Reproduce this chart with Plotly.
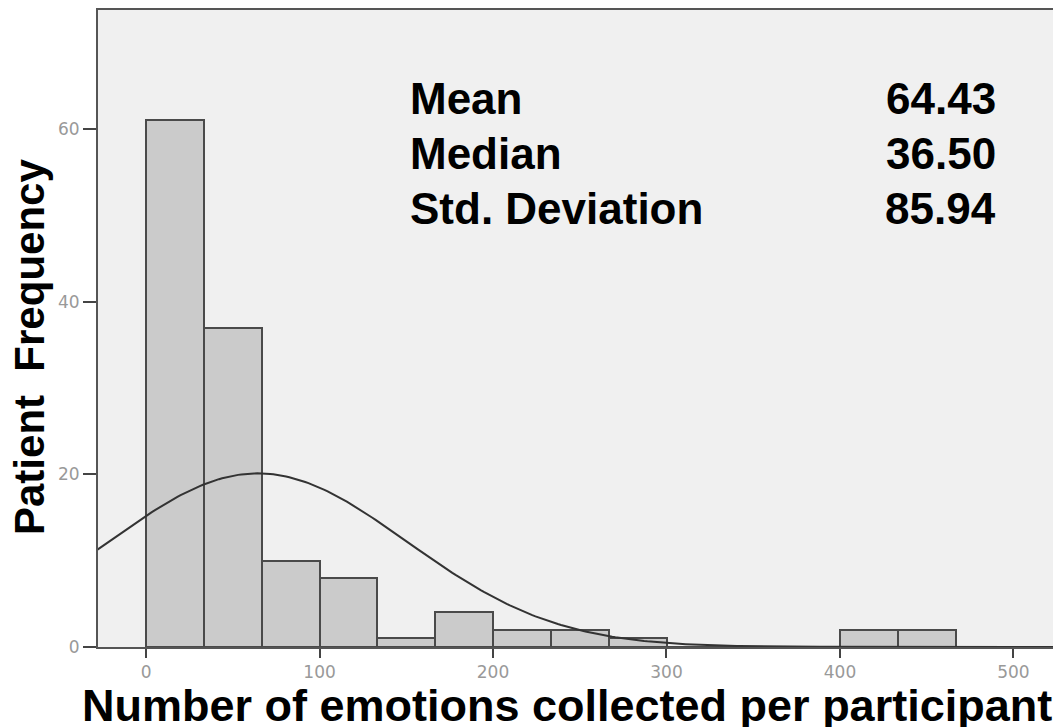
import numpy as np
import plotly.graph_objects as go

# histogram bins (width 100/3) and patient counts
bin_start = [0, 33.33, 66.67, 100, 133.33, 166.67, 200, 233.33, 266.67,
             300, 333.33, 366.67, 400, 433.33]
counts = [61, 37, 10, 8, 1, 4, 2, 2, 1, 0, 0, 0, 2, 2]
bin_width = 100 / 3

stat_names = ["Mean", "Median", "Std. Deviation"]
stat_values = ["64.43", "36.50", "85.94"]
mean, sd = 64.43, 85.94

x_ticks = [0, 100, 200, 300, 400, 500]
y_ticks = [0, 20, 40, 60]

W, H = 1053, 727
L, R, T, B = 98, 0, 10, 727 - 647


def px_x(p):
    return (p - L) / (W - L - R)


def px_y(p):
    return (H - B - p) / (H - T - B)


# normal curve overlay scaled to counts
n = sum(counts)
xs = np.linspace(-28, 523, 300)
ys = n * bin_width * np.exp(-0.5 * ((xs - mean) / sd) ** 2) / (sd * np.sqrt(2 * np.pi))

fig = go.Figure()
fig.add_trace(go.Bar(
    x=[s + bin_width / 2 for s in bin_start], y=counts, width=bin_width,
    marker=dict(color="#cbcbcb", line=dict(color="#4a4a4a", width=2)),
))
fig.add_trace(go.Scatter(x=xs, y=ys, mode="lines",
                         line=dict(color="#333333", width=2)))

font_b = "Liberation Sans, Arial, sans-serif"
ann = []
for i, (nm, v) in enumerate(zip(stat_names, stat_values)):
    yc = 98 + 55 * i
    ann.append(dict(text="<b>%s</b>" % nm, x=px_x(408), y=px_y(yc), xref="paper", yref="paper",
                    xanchor="left", yanchor="middle", showarrow=False,
                    font=dict(family=font_b, size=44, color="#000")))
    ann.append(dict(text="<b>%s</b>" % v, x=px_x(998), y=px_y(yc), xref="paper", yref="paper",
                    xanchor="right", yanchor="middle", showarrow=False,
                    font=dict(family=font_b, size=44, color="#000")))

ann.append(dict(text="<b>Number of emotions collected per participant</b>",
                x=px_x(80), y=px_y(705), xref="paper", yref="paper",
                xanchor="left", yanchor="middle", showarrow=False,
                font=dict(family=font_b, size=45, color="#000")))
ann.append(dict(text="<b>Patient\u00a0\u00a0Frequency</b>", textangle=-90,
                x=px_x(29), y=px_y(347), xref="paper", yref="paper",
                xanchor="center", yanchor="middle", showarrow=False,
                font=dict(family=font_b, size=42, color="#000")))

tick_font = dict(family="DejaVu Sans, Verdana, sans-serif", size=17, color="#999")

fig.update_layout(
    width=W, height=H, margin=dict(l=L, r=R, t=T, b=B),
    paper_bgcolor="white", plot_bgcolor="#f0f0f0",
    showlegend=False, bargap=0, annotations=ann,
    font=dict(family="Liberation Sans, Arial, sans-serif"),
)
fig.update_xaxes(range=[-27.7, 522.8], tickvals=x_ticks, ticks="outside", ticklen=9,
                 tickwidth=2, tickcolor="#444", showline=True, linecolor="#555", linewidth=2,
                 mirror=True, showgrid=False, zeroline=False, tickfont=tick_font)
fig.update_yaxes(range=[0, 73.8], tickvals=y_ticks, ticks="outside", ticklen=13,
                 tickwidth=2, tickcolor="#444", showline=True, linecolor="#555", linewidth=2,
                 showgrid=False, zeroline=False, tickfont=tick_font)

# drop the default body margin so the figure fills the window exactly
fig.write_html("out.html", config={"displayModeBar": False},
               post_script="document.body.style.margin='0';")
